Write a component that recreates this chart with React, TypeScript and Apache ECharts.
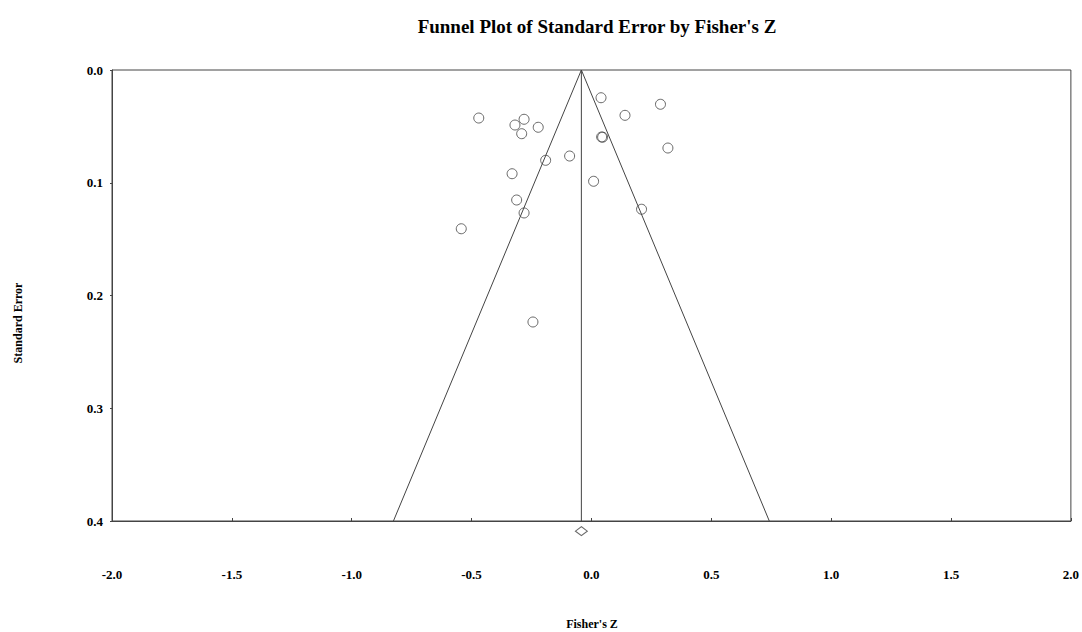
import React, { useEffect, useRef } from "react";
import * as echarts from "echarts";

// Study effects (Fisher's Z) and their standard errors
const fisherZ = [
  -0.470, -0.319, -0.281, -0.291, -0.222, 0.040, 0.288, 0.140, 0.0425, 0.0467,
  0.319, -0.091, -0.191, -0.331, 0.009, -0.312, -0.281, 0.209, -0.543, -0.244,
];
const stdError = [
  0.0426, 0.0488, 0.0437, 0.0565, 0.0508, 0.0246, 0.0304, 0.0402, 0.0594, 0.0596,
  0.0692, 0.0763, 0.0801, 0.0920, 0.0987, 0.1153, 0.1268, 0.1235, 0.1408, 0.2235,
];

// Pooled estimate, shown as a diamond under the axis
const pooledZ = -0.042;
const pooledMarkerSE = 0.409;

// Axis settings
const xTicks = [-2.0, -1.5, -1.0, -0.5, 0.0, 0.5, 1.0, 1.5, 2.0];
const yTicks = [0.0, 0.1, 0.2, 0.3, 0.4];
const seMax = 0.4;
const zCrit = 1.96;

const FONT = "'Liberation Serif', 'Times New Roman', serif";

export default function App() {
  const ref = useRef<HTMLDivElement>(null);

  useEffect(() => {
    if (!ref.current) return;
    const chart = echarts.init(ref.current, undefined, { renderer: "svg" });

    const points = fisherZ.map((z, i) => [z, stdError[i]]);
    const half = zCrit * seMax;
    const funnel = [
      [pooledZ - half, seMax],
      [pooledZ, 0],
      [pooledZ + half, seMax],
    ];
    const centerLine = [
      [pooledZ, 0],
      [pooledZ, seMax],
    ];

    const labelStyle = {
      fontFamily: FONT,
      fontWeight: "bold" as const,
      fontSize: 13,
      color: "#000",
    };

    chart.setOption({
      animation: false,
      backgroundColor: "#fff",
      title: {
        text: "Funnel Plot of Standard Error by Fisher's Z",
        left: 592,
        textAlign: "center",
        top: 12,
        textStyle: {
          fontFamily: FONT,
          fontWeight: "bold",
          fontSize: 19,
          color: "#000",
        },
      },
      grid: {
        left: 112,
        top: 70,
        width: 961,
        height: 451,
        show: true,
        borderColor: "#444",
        borderWidth: 1,
        backgroundColor: "transparent",
      },
      xAxis: {
        type: "value",
        min: xTicks[0],
        max: xTicks[xTicks.length - 1],
        interval: 0.5,
        axisLine: { show: true, onZero: false, lineStyle: { color: "#444" } },
        axisTick: { show: true, inside: true, length: 3, lineStyle: { color: "#444" } },
        splitLine: { show: false },
        axisLabel: {
          ...labelStyle,
          margin: 47,
          formatter: (v: number) => v.toFixed(1),
        },
      },
      yAxis: {
        type: "value",
        inverse: true,
        min: yTicks[0],
        max: yTicks[yTicks.length - 1],
        interval: 0.1,
        axisLine: { show: true, onZero: false, lineStyle: { color: "#444" } },
        axisTick: { show: true, length: 2, lineStyle: { color: "#444" } },
        splitLine: { show: false },
        axisLabel: {
          ...labelStyle,
          margin: 9,
          formatter: (v: number) => v.toFixed(1),
        },
      },
      graphic: [
        {
          type: "text",
          x: 592,
          y: 624,
          style: {
            text: "Fisher's Z",
            fontFamily: FONT,
            fontWeight: "bold",
            fontSize: 12,
            fill: "#000",
            align: "center",
            verticalAlign: "middle",
          },
        },
        {
          type: "text",
          x: 18,
          y: 323,
          rotation: Math.PI / 2,
          style: {
            text: "Standard Error",
            fontFamily: FONT,
            fontWeight: "bold",
            fontSize: 12,
            fill: "#000",
            align: "center",
            verticalAlign: "middle",
          },
        },
      ],
      series: [
        {
          type: "line",
          data: funnel,
          symbol: "none",
          lineStyle: { color: "#444", width: 1 },
          silent: true,
        },
        {
          type: "line",
          data: centerLine,
          symbol: "none",
          lineStyle: { color: "#444", width: 1 },
          silent: true,
        },
        {
          type: "scatter",
          data: points,
          symbol: "circle",
          symbolSize: 10,
          itemStyle: { color: "rgba(255,255,255,0)", borderColor: "#444", borderWidth: 1 },
        },
        {
          type: "scatter",
          data: [[pooledZ, pooledMarkerSE]],
          clip: false,
          symbol: "diamond",
          symbolSize: [12, 9],
          itemStyle: { color: "#fff", borderColor: "#444", borderWidth: 1 },
        },
      ],
    });

    return () => chart.dispose();
  }, []);

  return (
    <div
      ref={ref}
      style={{ position: "fixed", left: 0, top: 0, width: 1082, height: 632 }}
    />
  );
}
